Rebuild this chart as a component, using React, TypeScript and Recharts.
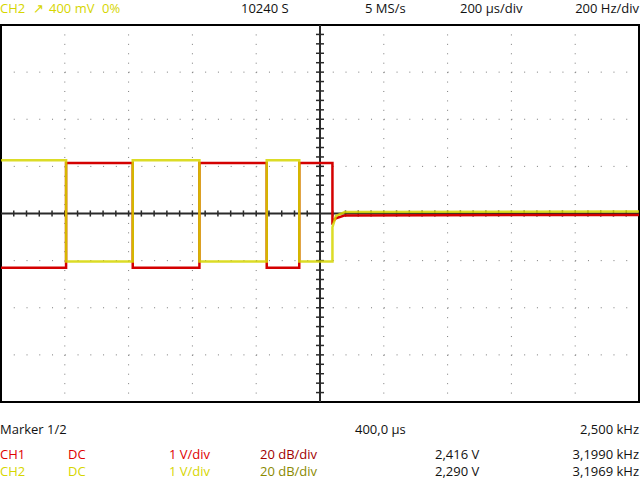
import React from 'react';
import {
  LineChart,
  Line,
  XAxis,
  YAxis,
  CartesianGrid,
  ReferenceLine,
  ReferenceArea,
} from 'recharts';

// time in µs (200 µs/div, trigger at centre), volts at 1 V/div
const redTime = [-1000, -796, -796, -587, -587, -378, -378, -167, -167, -65, -65, 39, 39, 50, 78, 1000];
const redVolts = [-1.15, -1.15, 1.07, 1.07, -1.15, -1.15, 1.07, 1.07, -1.15, -1.15, 1.07, 1.07, -0.18, -0.1, -0.04, -0.03];
const yellowTime = [-1000, -796, -796, -587, -587, -378, -378, -167, -167, -65, -65, 39, 39, 50, 78, 1000];
const yellowVolts = [1.13, 1.13, -1.02, -1.02, 1.13, 1.13, -1.02, -1.02, 1.13, 1.13, -1.02, -1.02, -0.29, -0.05, 0.03, 0.04];

const timeDivs = [-800, -600, -400, -200, 0, 200, 400, 600, 800];
const voltDivs = [-3, -2, -1, 0, 1, 2, 3];

const triggerItems = ['CH2', '↗', '400 mV', '0%'];
const headerItems = ['10240 S', '5 MS/s', '200 µs/div', '200 Hz/div'];
const markerLabel = 'Marker 1/2';
const markerTime = '400,0 µs';
const markerFreq = '2,500 kHz';
const ch1Row = ['CH1', 'DC', '1 V/div', '20 dB/div', '2,416 V', '3,1990 kHz'];
const ch2Row = ['CH2', 'DC', '1 V/div', '20 dB/div', '2,290 V', '3,1969 kHz'];

const RED = '#d40000';
const YELLOW = '#d6d600';

const redData = redTime.map((t, i) => ({ t, v: redVolts[i] }));
const yellowData = yellowTime.map((t, i) => ({ t, v: yellowVolts[i] }));

// minor ticks on the centre cross: 5 per division
const xMinor = Array.from({ length: 49 }, (_, i) => -960 + i * 40).filter((t) => t !== 0);
const yMinor = Array.from({ length: 39 }, (_, i) => Math.round((-3.8 + i * 0.2) * 10) / 10).filter((v) => v !== 0);

const font = '"Open Sans", sans-serif';

const txt = (left: number | undefined, top: number, color: string, s: string, right?: number) => (
  <div
    key={s + left + top + (right ?? '')}
    style={{
      position: 'absolute',
      left,
      right,
      top,
      color,
      fontFamily: font,
      fontSize: 13,
      lineHeight: '16px',
      whiteSpace: 'nowrap',
    }}
  >
    {s}
  </div>
);

export default function App() {
  return (
    <div style={{ position: 'relative', width: 640, height: 480, background: '#fff', overflow: 'hidden' }}>
      <style>{'body{margin:0}'}</style>
      <LineChart width={640} height={480} margin={{ top: 25, right: 1, bottom: 78, left: 1 }}>
        <XAxis dataKey="t" type="number" domain={[-1000, 1000]} ticks={timeDivs} hide allowDataOverflow />
        <YAxis type="number" domain={[-4, 4]} ticks={voltDivs} hide allowDataOverflow />
        <CartesianGrid horizontal={false} stroke="#7a7a7a" strokeDasharray="1 8.425" />
        <CartesianGrid vertical={false} stroke="#7a7a7a" strokeDasharray="1 11.76" />
        <ReferenceLine x={0} stroke="#2a2a2a" strokeWidth={2} />
        <ReferenceLine y={0} stroke="#2a2a2a" strokeWidth={2} />
        {xMinor.map((t) => (
          <ReferenceLine
            key={'x' + t}
            segment={[{ x: t, y: -0.065 }, { x: t, y: 0.065 }]}
            stroke="#2a2a2a"
            strokeWidth={1.5}
          />
        ))}
        {yMinor.map((v) => (
          <ReferenceLine
            key={'y' + v}
            segment={[{ x: -12.5, y: v }, { x: 12.5, y: v }]}
            stroke="#2a2a2a"
            strokeWidth={1.5}
          />
        ))}
        <ReferenceArea x1={-1000} x2={1000} y1={-4} y2={4} fill="none" stroke="#000" strokeWidth={2} />
        <Line data={redData} dataKey="v" type="linear" stroke={RED} strokeWidth={2.5} dot={false} isAnimationActive={false} />
        <Line data={yellowData} dataKey="v" type="linear" stroke={YELLOW} strokeOpacity={0.85} strokeWidth={2.5} dot={false} isAnimationActive={false} />
      </LineChart>

      {txt(0, 0, YELLOW, triggerItems[0])}
      {txt(33, 0, YELLOW, triggerItems[1])}
      {txt(49, 0, YELLOW, triggerItems[2])}
      {txt(102, 0, YELLOW, triggerItems[3])}
      {txt(241, 0, '#111', headerItems[0])}
      {txt(365, 0, '#111', headerItems[1])}
      {txt(460, 0, '#111', headerItems[2])}
      {txt(undefined, 0, '#111', headerItems[3], 1)}

      {txt(0, 421, '#111', markerLabel)}
      {txt(355, 421, '#111', markerTime)}
      {txt(undefined, 421, '#111', markerFreq, 1)}

      {txt(0, 446, '#e00000', ch1Row[0])}
      {txt(68, 446, '#e00000', ch1Row[1])}
      {txt(169, 446, '#e00000', ch1Row[2])}
      {txt(260, 446, '#a00000', ch1Row[3])}
      {txt(435, 446, '#111', ch1Row[4])}
      {txt(undefined, 446, '#111', ch1Row[5], 1)}

      {txt(0, 463, YELLOW, ch2Row[0])}
      {txt(68, 463, YELLOW, ch2Row[1])}
      {txt(169, 463, YELLOW, ch2Row[2])}
      {txt(260, 463, '#8a8a00', ch2Row[3])}
      {txt(435, 463, '#111', ch2Row[4])}
      {txt(undefined, 463, '#111', ch2Row[5], 1)}
    </div>
  );
}
